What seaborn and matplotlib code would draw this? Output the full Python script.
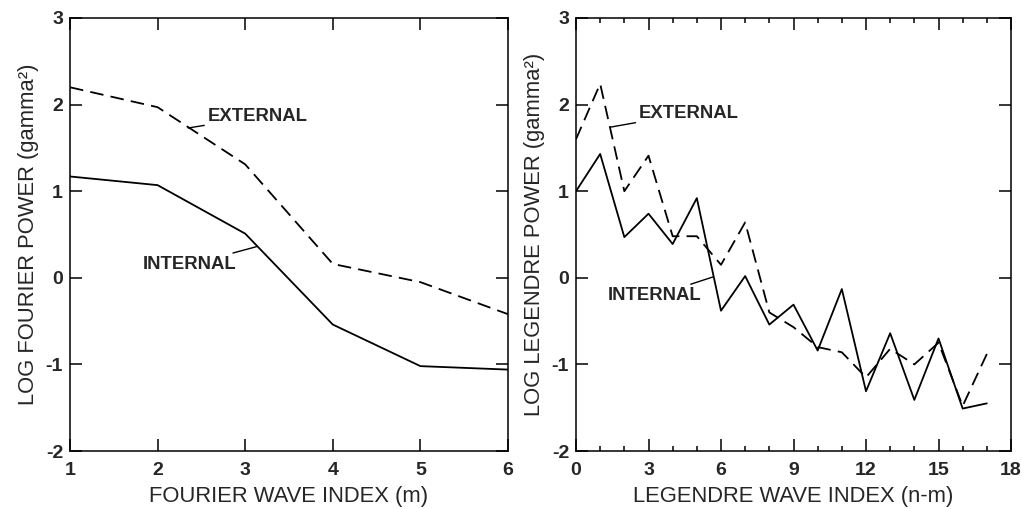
import matplotlib
matplotlib.use('Agg')
from matplotlib import pyplot as plt
from matplotlib.ticker import MultipleLocator
import pandas as pd
import seaborn as sns

# fourier spectrum (m = 1..6)
fourier_m = [1, 2, 3, 4, 5, 6]
fourier_ext = [2.20, 1.97, 1.31, 0.16, -0.05, -0.42]
fourier_int = [1.17, 1.07, 0.51, -0.54, -1.02, -1.06]

# legendre spectrum (n-m = 0..17)
legendre_n = list(range(18))
legendre_ext = [1.60, 2.24, 1.00, 1.41, 0.48, 0.48, 0.15, 0.64, -0.40, -0.57,
                -0.80, -0.86, -1.15, -0.82, -1.00, -0.75, -1.48, -0.88]
legendre_int = [1.00, 1.43, 0.47, 0.74, 0.39, 0.92, -0.38, 0.02, -0.54, -0.31,
                -0.84, -0.13, -1.31, -0.64, -1.41, -0.70, -1.51, -1.45]

y_ticks = [-2, -1, 0, 1, 2, 3]
fourier_ticks = [1, 2, 3, 4, 5, 6]
legendre_ticks = [0, 3, 6, 9, 12, 15, 18]

df_f = pd.DataFrame({'m': fourier_m, 'ext': fourier_ext, 'int': fourier_int})
df_l = pd.DataFrame({'n': legendre_n, 'ext': legendre_ext, 'int': legendre_int})

sns.set_style('ticks')
plt.rcParams['font.family'] = ['Liberation Sans', 'DejaVu Sans']

W, H = 1022, 509
fig = plt.figure(figsize=(W / 100, H / 100), dpi=100)
ax1 = fig.add_axes([70 / W, 1 - 451 / H, 438 / W, 433 / H])
ax2 = fig.add_axes([576 / W, 1 - 451 / H, 435 / W, 433 / H])

dash = (0, (7.5, 4))
lw = 1.3

sns.lineplot(data=df_f, x='m', y='ext', ax=ax1, color='black', lw=lw, linestyle=dash)
sns.lineplot(data=df_f, x='m', y='int', ax=ax1, color='black', lw=lw)
sns.lineplot(data=df_l, x='n', y='ext', ax=ax2, color='black', lw=lw, linestyle=dash)
sns.lineplot(data=df_l, x='n', y='int', ax=ax2, color='black', lw=lw)

tick_font = dict(fontsize=14, fontweight='bold')
for ax, xt in ((ax1, fourier_ticks), (ax2, legendre_ticks)):
    for s in ax.spines.values():
        s.set_visible(True)
        s.set_linewidth(1.1)
        s.set_color('black')
    ax.tick_params(which='both', direction='in', top=True, right=True,
                   color='black', width=1.1)
    ax.tick_params(which='major', length=8.5)
    ax.tick_params(which='minor', length=3.5)
    ax.tick_params(axis='x', which='major', pad=8)
    ax.tick_params(axis='y', which='major', pad=5)
    ax.set_yticks(y_ticks)
    ax.set_yticklabels([str(t) for t in y_ticks], **tick_font)
    ax.set_xticks(xt)
    ax.set_xticklabels([str(t) for t in xt], **tick_font)
    ax.set_ylim(-2, 3)

ax1.set_xlim(1, 6)
ax2.set_xlim(0, 18)
ax2.xaxis.set_minor_locator(MultipleLocator(1))

lab_size = 15.8
ax1.set_xlabel('FOURIER WAVE INDEX (m)', fontsize=lab_size, labelpad=5)
ax1.set_ylabel('LOG FOURIER POWER (gamma²)', fontsize=lab_size, labelpad=5)
ax2.set_xlabel('LEGENDRE WAVE INDEX (n-m)', fontsize=lab_size, labelpad=5)
ax2.set_ylabel('LOG LEGENDRE POWER (gamma²)', fontsize=lab_size, labelpad=5)

lab_font = dict(fontsize=13.3, fontweight='bold', va='center', ha='left')
arrow = dict(arrowstyle='-', color='black', lw=1.0, shrinkA=0, shrinkB=0)

ax1.annotate('EXTERNAL', xy=(2.35, 1.73), xytext=(2.57, 1.86), arrowprops=arrow, **lab_font)
ax1.annotate('INTERNAL', xy=(3.13, 0.36), xytext=(1.83, 0.15), arrowprops=arrow, **lab_font)
ax2.annotate('EXTERNAL', xy=(1.43, 1.74), xytext=(2.6, 1.90), arrowprops=arrow, **lab_font)
ax2.annotate('INTERNAL', xy=(5.67, 0.01), xytext=(1.32, -0.21), arrowprops=arrow, **lab_font)

fig.savefig('out.png', dpi=100)
